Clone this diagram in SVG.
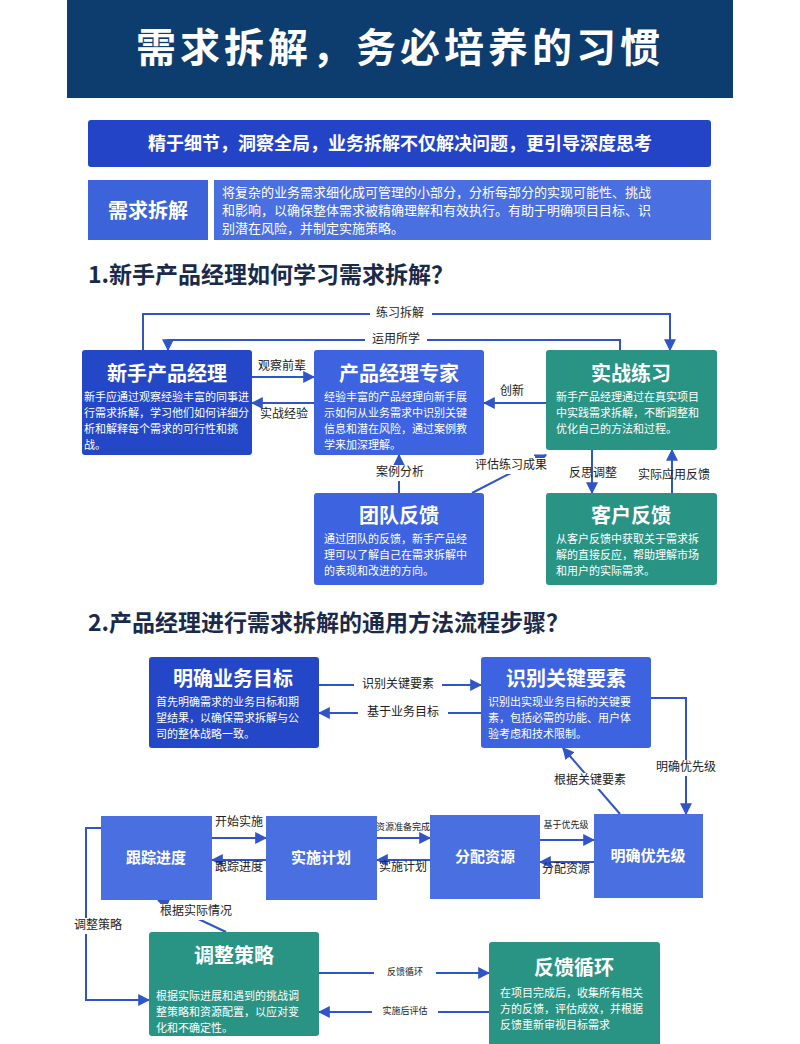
<svg xmlns="http://www.w3.org/2000/svg" width="800" height="1044" viewBox="0 0 800 1044">
<defs>
<marker id="ah" viewBox="0 0 10 10" refX="9" refY="5" markerWidth="6" markerHeight="6" orient="auto"><path d="M0,0L10,5L0,10z" fill="#2f55c7"/></marker>
<style>
text{font-family:"Noto Sans CJK SC","Noto Sans",sans-serif}
.c{fill:none;stroke:#2f55c7;stroke-width:2;marker-end:url(#ah)}
.lb{font-size:12px;fill:#222;text-anchor:middle;dominant-baseline:middle}
.sl{font-size:9px;fill:#222;text-anchor:middle;dominant-baseline:middle}
.t{fill:#fff;font-weight:bold;text-anchor:middle}
.d{fill:#fff;font-size:11px}
.dk{fill:#2347c6}.md{fill:#3d63e0}.lt{fill:#4a6fe0}.tl{fill:#2a9484}
</style>
</defs>
<rect width="800" height="1044" fill="#fff"/>
<rect x="67" y="0" width="666" height="98" fill="#0d3c6e"/>
<text x="400" y="62" class="t" font-size="40" letter-spacing="4">需求拆解，务必培养的习惯</text>
<rect x="88" y="120" width="623" height="47" rx="3" fill="#2444c8"/>
<text x="400" y="150" class="t" font-size="18">精于细节，洞察全局，业务拆解不仅解决问题，更引导深度思考</text>
<rect x="88" y="180" width="120" height="60" fill="#3c63d9"/>
<text x="148" y="218" class="t" font-size="20">需求拆解</text>
<rect x="214" y="180" width="497" height="60" fill="#4a6fe0"/>
<text fill="#fff" font-size="13"><tspan x="222" y="197">将复杂的业务需求细化成可管理的小部分，分析每部分的实现可能性、挑战</tspan><tspan x="222" y="215">和影响，以确保整体需求被精确理解和有效执行。有助于明确项目目标、识</tspan><tspan x="222" y="233">别潜在风险，并制定实施策略。</tspan></text>
<text x="88" y="283" font-size="23" font-weight="bold" fill="#1a2a4a">1.新手产品经理如何学习需求拆解？</text>
<text x="88" y="631" font-size="23" font-weight="bold" fill="#1a2a4a">2.产品经理进行需求拆解的通用方法流程步骤？</text>

<g id="connectors">
<path class="c" d="M143,350V314H670V350"/>
<rect x="370" y="306" width="62" height="16" fill="#fff"/><text x="400" y="314" class="lb">练习拆解</text>
<path class="c" d="M620,350V340H168V350"/>
<rect x="365" y="332" width="62" height="16" fill="#fff"/><text x="396" y="340" class="lb">运用所学</text>
<path class="c" d="M252,377H314"/><text x="282" y="367" class="lb">观察前辈</text>
<path class="c" d="M314,403H252"/><text x="284" y="415" class="lb">实战经验</text>
<path class="c" d="M546,403H484"/><text x="512" y="392" class="lb">创新</text>
<path class="c" d="M399,493V455"/><rect x="372" y="465" width="56" height="16" fill="#fff"/><text x="400" y="473" class="lb">案例分析</text>
<path class="c" d="M472,493L546,455"/><rect x="470" y="458" width="82" height="16" fill="#fff"/><text x="511" y="466" class="lb">评估练习成果</text>
<path class="c" d="M592,450V493"/><text x="593" y="474" class="lb">反思调整</text>
<path class="c" d="M672,493V450"/><text x="674" y="476" class="lb">实际应用反馈</text>

<path class="c" d="M319,685H481"/><rect x="354" y="677" width="88" height="16" fill="#fff"/><text x="398" y="685" class="lb">识别关键要素</text>
<path class="c" d="M481,713H319"/><rect x="358" y="705" width="90" height="16" fill="#fff"/><text x="403" y="713" class="lb">基于业务目标</text>
<path class="c" d="M651,698H686V814"/><rect x="652" y="760" width="68" height="16" fill="#fff"/><text x="686" y="768" class="lb">明确优先级</text>
<path class="c" d="M620,814L563,748"/><rect x="548" y="773" width="84" height="16" fill="#fff"/><text x="590" y="781" class="lb">根据关键要素</text>
<path class="c" d="M212,838H266"/><text x="239" y="823" class="lb">开始实施</text>
<path class="c" d="M266,860H212"/><text x="239" y="868" class="lb">跟踪进度</text>
<path class="c" d="M377,838H430"/><text x="403" y="828" class="sl">资源准备完成</text>
<path class="c" d="M430,860H377"/><text x="403" y="868" class="lb">实施计划</text>
<path class="c" d="M540,840H594"/><text x="566" y="826" class="sl">基于优先级</text>
<path class="c" d="M594,862H540"/><text x="566" y="870" class="lb">分配资源</text>
<path class="c" d="M226,932L158,900"/><rect x="152" y="904" width="86" height="16" fill="#fff"/><text x="196" y="912" class="lb">根据实际情况</text>
<path class="c" d="M101,828H86V1000H149"/><rect x="70" y="918" width="56" height="16" fill="#fff"/><text x="98" y="926" class="lb">调整策略</text>
<path class="c" d="M319,973H489"/><rect x="374" y="965" width="62" height="16" fill="#fff"/><text x="405" y="973" class="sl">反馈循环</text>
<path class="c" d="M489,1012H319"/><rect x="372" y="1004" width="66" height="16" fill="#fff"/><text x="405" y="1012" class="sl">实施后评估</text>
</g>

<g id="n1"><rect x="82" y="350" width="170" height="105" rx="3" class="dk"/><text x="167" y="381" class="t" font-size="20">新手产品经理</text>
<text class="d"><tspan x="84" y="401">新手应通过观察经验丰富的同事进</tspan><tspan x="84" y="417">行需求拆解，学习他们如何详细分</tspan><tspan x="84" y="433">析和解释每个需求的可行性和挑</tspan><tspan x="84" y="449">战。</tspan></text></g>
<g id="n2"><rect x="314" y="350" width="170" height="105" rx="3" class="md"/><text x="399" y="381" class="t" font-size="20">产品经理专家</text>
<text class="d"><tspan x="324" y="401">经验丰富的产品经理向新手展</tspan><tspan x="324" y="417">示如何从业务需求中识别关键</tspan><tspan x="324" y="433">信息和潜在风险，通过案例教</tspan><tspan x="324" y="449">学来加深理解。</tspan></text></g>
<g id="n3"><rect x="546" y="350" width="171" height="100" rx="3" class="tl"/><text x="631" y="381" class="t" font-size="20">实战练习</text>
<text class="d"><tspan x="556" y="401">新手产品经理通过在真实项目</tspan><tspan x="556" y="417">中实践需求拆解，不断调整和</tspan><tspan x="556" y="433">优化自己的方法和过程。</tspan></text></g>
<g id="n4"><rect x="314" y="493" width="170" height="92" rx="3" class="md"/><text x="399" y="523" class="t" font-size="20">团队反馈</text>
<text class="d"><tspan x="324" y="543">通过团队的反馈，新手产品经</tspan><tspan x="324" y="559">理可以了解自己在需求拆解中</tspan><tspan x="324" y="575">的表现和改进的方向。</tspan></text></g>
<g id="n5"><rect x="546" y="493" width="171" height="92" rx="3" class="tl"/><text x="631" y="523" class="t" font-size="20">客户反馈</text>
<text class="d"><tspan x="556" y="543">从客户反馈中获取关于需求拆</tspan><tspan x="556" y="559">解的直接反应，帮助理解市场</tspan><tspan x="556" y="575">和用户的实际需求。</tspan></text></g>

<g id="m1"><rect x="149" y="657" width="170" height="91" rx="3" class="dk"/><text x="233" y="686" class="t" font-size="20">明确业务目标</text>
<text class="d"><tspan x="156" y="706">首先明确需求的业务目标和期</tspan><tspan x="156" y="722">望结果，以确保需求拆解与公</tspan><tspan x="156" y="738">司的整体战略一致。</tspan></text></g>
<g id="m2"><rect x="481" y="657" width="170" height="91" rx="3" class="md"/><text x="566" y="686" class="t" font-size="20">识别关键要素</text>
<text class="d"><tspan x="488" y="706">识别出实现业务目标的关键要</tspan><tspan x="488" y="722">素，包括必需的功能、用户体</tspan><tspan x="488" y="738">验考虑和技术限制。</tspan></text></g>
<g id="m3"><rect x="101" y="816" width="111" height="84" class="lt"/><text x="156" y="863" class="t" font-size="15">跟踪进度</text></g>
<g id="m4"><rect x="266" y="816" width="111" height="84" class="lt"/><text x="321" y="863" class="t" font-size="15">实施计划</text></g>
<g id="m5"><rect x="430" y="815" width="110" height="84" class="lt"/><text x="485" y="862" class="t" font-size="15">分配资源</text></g>
<g id="m6"><rect x="594" y="814" width="109" height="84" class="lt"/><text x="648" y="861" class="t" font-size="15">明确优先级</text></g>
<g id="m7"><rect x="149" y="932" width="170" height="104" rx="3" class="tl"/><text x="234" y="963" class="t" font-size="20">调整策略</text>
<text class="d"><tspan x="156" y="1000">根据实际进展和遇到的挑战调</tspan><tspan x="156" y="1016">整策略和资源配置，以应对变</tspan><tspan x="156" y="1032">化和不确定性。</tspan></text></g>
<g id="m8"><rect x="489" y="942" width="171" height="110" rx="3" class="tl"/><text x="574" y="975" class="t" font-size="20">反馈循环</text>
<text class="d"><tspan x="500" y="997">在项目完成后，收集所有相关</tspan><tspan x="500" y="1013">方的反馈，评估成效，并根据</tspan><tspan x="500" y="1029">反馈重新审视目标需求</tspan></text></g>
</svg>
